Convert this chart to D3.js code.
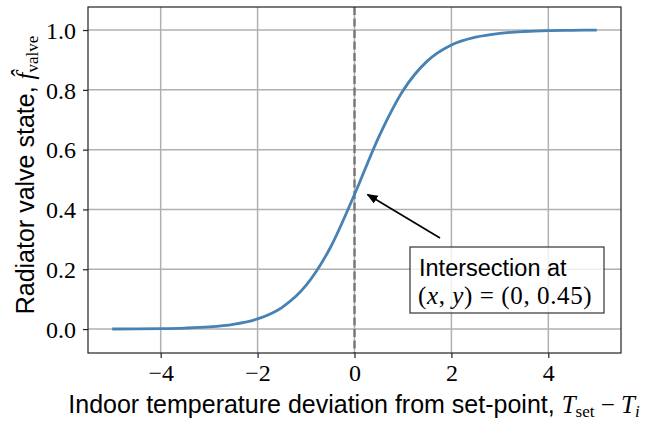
<!DOCTYPE html>
<html>
<head>
<meta charset="utf-8">
<script src="https://cdn.jsdelivr.net/npm/d3@7"></script>
<style>
  body { margin: 0; background: #fff; }
  .tick text { font-family: "Liberation Serif", serif; font-size: 24px; fill: #000; }
</style>
</head>
<body>
<script>
// values
const devX = [-5, -4.5, -4, -3.5, -3, -2.5, -2, -1.5, -1, -0.5, 0, 0.5, 1, 1.5, 2, 2.5, 3, 3.5, 4, 4.5, 5];
const valveY = [0.0003, 0.0007, 0.0015, 0.0034, 0.0073, 0.016, 0.034, 0.072, 0.146, 0.272, 0.45,
                0.642, 0.797, 0.896, 0.95, 0.976, 0.989, 0.995, 0.998, 0.999, 1.0];
const xTicks = [-4, -2, 0, 2, 4];
const yTicks = [0.0, 0.2, 0.4, 0.6, 0.8, 1.0];
const marker = { x: 0, y: 0.45 };

const w = 645, h = 422;
const m = { left: 88, right: 24, top: 7, bottom: 69 };

const svg = d3.select("body").append("svg")
  .attr("width", w)
  .attr("height", h);

const x = d3.scaleLinear().domain([-5.5, 5.5]).range([m.left, w - m.right]);
const y = d3.scaleLinear().domain([-0.08, 1.077]).range([h - m.bottom, m.top]);

// grid
svg.append("g").selectAll("line").data(xTicks).enter().append("line")
  .attr("x1", d => x(d)).attr("x2", d => x(d))
  .attr("y1", m.top).attr("y2", h - m.bottom)
  .attr("stroke", "#b0b0b0").attr("stroke-width", 1.5);
svg.append("g").selectAll("line").data(yTicks).enter().append("line")
  .attr("y1", d => y(d)).attr("y2", d => y(d))
  .attr("x1", m.left).attr("x2", w - m.right)
  .attr("stroke", "#b0b0b0").attr("stroke-width", 1.5);

// dashed line at x = 0
svg.append("line")
  .attr("x1", x(marker.x)).attr("x2", x(marker.x))
  .attr("y1", m.top).attr("y2", h - m.bottom)
  .attr("stroke", "#777").attr("stroke-width", 2.4)
  .attr("stroke-dasharray", "8,3.5");

// curve
const line = d3.line()
  .x((d, i) => x(devX[i]))
  .y(d => y(d))
  .curve(d3.curveMonotoneX);

svg.append("path")
  .datum(valveY)
  .attr("fill", "none")
  .attr("stroke", "#4682b4")
  .attr("stroke-width", 2.8)
  .attr("d", line);

// axes
const xAxis = svg.append("g")
  .attr("transform", `translate(0,${h - m.bottom})`)
  .call(d3.axisBottom(x).tickValues(xTicks).tickSize(5).tickPadding(6)
    .tickFormat(d => d < 0 ? "\u2212" + Math.abs(d) : d));
const yAxis = svg.append("g")
  .attr("transform", `translate(${m.left},0)`)
  .call(d3.axisLeft(y).tickValues(yTicks).tickSize(5).tickPadding(7)
    .tickFormat(d3.format(".1f")));
[xAxis, yAxis].forEach(g => {
  g.select(".domain").remove();
  g.selectAll(".tick line").attr("stroke", "#222").attr("stroke-width", 1.2);
});
yAxis.selectAll(".tick text").attr("dy", "0.34em");

// frame
svg.append("rect")
  .attr("x", m.left).attr("y", m.top)
  .attr("width", w - m.left - m.right).attr("height", h - m.top - m.bottom)
  .attr("fill", "none").attr("stroke", "#222").attr("stroke-width", 1.2);

// axis labels
const serif = "'Liberation Serif', serif";
const xl = svg.append("text")
  .attr("x", 354).attr("y", 413)
  .attr("text-anchor", "middle")
  .style("font-family", "'Liberation Sans', sans-serif").style("font-size", "25px");
xl.append("tspan").text("Indoor temperature deviation from set-point, ");
xl.append("tspan").style("font-family", serif).style("font-style", "italic").text("T");
xl.append("tspan").style("font-family", serif).style("font-size", "17px").attr("dy", 4).text("set");
xl.append("tspan").style("font-family", serif).attr("dy", -4).text(" \u2212 ");
xl.append("tspan").style("font-family", serif).style("font-style", "italic").text("T");
xl.append("tspan").style("font-family", serif).style("font-style", "italic").style("font-size", "17px").attr("dy", 4).text("i");

const yl = svg.append("text")
  .attr("transform", "translate(34,175) rotate(-90)")
  .attr("text-anchor", "middle")
  .style("font-family", "'Liberation Sans', sans-serif").style("font-size", "25px");
yl.append("tspan").text("Radiator valve state, ");
yl.append("tspan").style("font-family", serif).style("font-style", "italic").text("f\u0302");
yl.append("tspan").style("font-family", serif).style("font-size", "17px").attr("dy", 4).text("valve");

// annotation arrow
svg.append("defs").append("marker")
  .attr("id", "head").attr("viewBox", "0 0 10 10")
  .attr("refX", 9).attr("refY", 5)
  .attr("markerWidth", 7).attr("markerHeight", 7)
  .attr("orient", "auto")
  .append("path").attr("d", "M0,1 L10,5 L0,9 Z").attr("fill", "#000");

svg.append("line")
  .attr("x1", 440).attr("y1", 238)
  .attr("x2", x(marker.x) + 13).attr("y2", y(marker.y) + 0)
  .attr("stroke", "#000").attr("stroke-width", 1.6)
  .attr("marker-end", "url(#head)");

// annotation box
svg.append("rect")
  .attr("x", 410).attr("y", 247).attr("width", 194).attr("height", 66)
  .attr("fill", "rgba(255,255,255,0.8)").attr("stroke", "#333").attr("stroke-width", 1.2);
svg.append("text")
  .attr("x", 419).attr("y", 276)
  .style("font-family", "'Liberation Sans', sans-serif").style("font-size", "23.5px")
  .text("Intersection at");
const t2 = svg.append("text")
  .attr("x", 418).attr("y", 304)
  .style("font-family", serif).style("font-size", "25px").style("letter-spacing", "0.6px");
t2.append("tspan").text("(");
t2.append("tspan").style("font-style", "italic").text("x");
t2.append("tspan").text(", ");
t2.append("tspan").style("font-style", "italic").text("y");
t2.append("tspan").text(") = (" + marker.x + ", " + marker.y + ")");
</script>
</body>
</html>
